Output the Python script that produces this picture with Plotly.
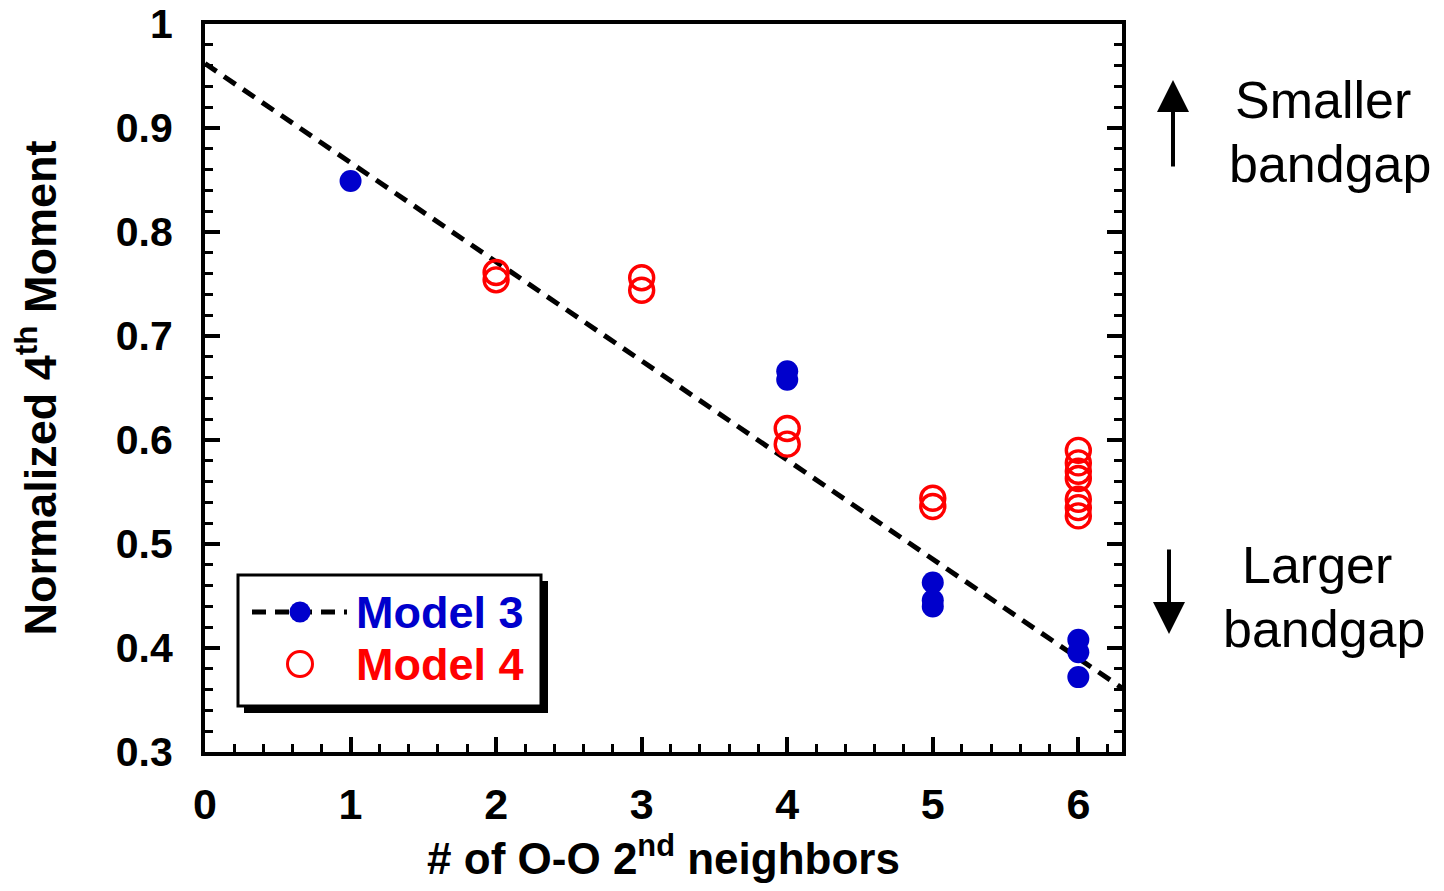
import plotly.graph_objects as go

# Model 3: filled blue circles
m3_x = [1, 4, 4, 5, 5, 5, 6, 6, 6]
m3_y = [0.849, 0.666, 0.658, 0.463, 0.446, 0.440, 0.408, 0.396, 0.372]

# Model 4: open red circles
m4_x = [2, 2, 3, 3, 4, 4, 5, 5, 6, 6, 6, 6, 6, 6, 6]
m4_y = [0.761, 0.754, 0.756, 0.744, 0.611, 0.596, 0.544, 0.536,
        0.590, 0.578, 0.570, 0.563, 0.543, 0.535, 0.527]

# straight-line fit drawn across the whole x range
fit_x = [0, 6.3]
fit_y = [0.962, 0.3615]

x_ticks = [0, 1, 2, 3, 4, 5, 6]
y_ticks = [0.3, 0.4, 0.5, 0.6, 0.7, 0.8, 0.9, 1.0]
y_tick_text = ["0.3", "0.4", "0.5", "0.6", "0.7", "0.8", "0.9", "1"]

BLUE = "#0000CC"
RED = "#FF0000"
SANS = "Liberation Sans, Arial, Helvetica, sans-serif"
DASH = "14px,9px"

fig = go.Figure()
fig.add_trace(go.Scatter(x=fit_x, y=fit_y, mode="lines",
                         line=dict(color="black", width=5, dash=DASH),
                         showlegend=False, hoverinfo="skip"))
fig.add_trace(go.Scatter(x=m3_x, y=m3_y, mode="markers", name="Model 3",
                         marker=dict(color=BLUE, size=22, line=dict(width=0)),
                         showlegend=False))
fig.add_trace(go.Scatter(x=m4_x, y=m4_y, mode="markers", name="Model 4",
                         marker=dict(symbol="circle-open", color=RED, size=24,
                                     line=dict(width=3.4, color=RED)),
                         showlegend=False))

# legend box (drop shadow + framed white panel), positioned in pixels from the
# lower-left corner of the plotting area
def px_shape(**kw):
    base = dict(xref="paper", yref="paper", xanchor=0, yanchor=0,
                xsizemode="pixel", ysizemode="pixel", layer="above")
    base.update(kw)
    return base

shapes = [
    px_shape(type="rect", x0=39, x1=343, y0=39, y1=171,
             fillcolor="black", line=dict(width=0)),
    px_shape(type="rect", x0=33, x1=336, y0=46, y1=177,
             fillcolor="white", line=dict(color="black", width=3)),
    px_shape(type="line", x0=47, x1=142, y0=140, y1=140,
             line=dict(color="black", width=5, dash=DASH)),
    px_shape(type="circle", x0=84.5, x1=105.5, y0=129.5, y1=150.5,
             fillcolor=BLUE, line=dict(width=0)),
    px_shape(type="circle", x0=82.5, x1=107.5, y0=75.5, y1=100.5,
             fillcolor="rgba(0,0,0,0)", line=dict(color=RED, width=3)),
]

def side_text(text, cx, cy):
    return dict(text=text, xref="paper", yref="paper",
                x=(cx - 205) / 917, y=(752 - cy) / 728,
                xanchor="center", yanchor="middle", showarrow=False,
                font=dict(family=SANS, size=52, color="black"))

def arrow(x_tip, y_tip, dy):
    return dict(text="", xref="paper", yref="paper",
                x=(x_tip - 205) / 917, y=(752 - y_tip) / 728,
                ax=0, ay=dy, showarrow=True, arrowhead=2, arrowsize=1.6,
                arrowwidth=4, arrowcolor="black", standoff=0)

annotations = [
    dict(text="<b>Model 3</b>", xref="paper", yref="paper", x=0, y=0,
         xshift=149, yshift=140, xanchor="left", yanchor="middle",
         showarrow=False, font=dict(family=SANS, size=45, color=BLUE)),
    dict(text="<b>Model 4</b>", xref="paper", yref="paper", x=0, y=0,
         xshift=149, yshift=88, xanchor="left", yanchor="middle",
         showarrow=False, font=dict(family=SANS, size=45, color=RED)),
    side_text("Smaller", 1323, 100),
    side_text("bandgap", 1330, 164),
    side_text("Larger", 1317, 565),
    side_text("bandgap", 1324, 629),
    arrow(1173, 80, 88),     # up: smaller bandgap
    arrow(1169, 634, -86),   # down: larger bandgap
]

fig.update_layout(
    width=1444, height=891,
    margin=dict(l=205, r=322, t=24, b=139, pad=0, autoexpand=False),
    paper_bgcolor="white", plot_bgcolor="white",
    showlegend=False,
    shapes=shapes, annotations=annotations,
)

fig.update_xaxes(
    range=[0, 6.3], tickvals=x_ticks, showgrid=False, zeroline=False,
    automargin=False,
    showline=True, linecolor="black", linewidth=4, mirror=True,
    ticks="inside", ticklen=15, tickwidth=4, tickcolor="black",
    ticklabelstandoff=11,
    tickfont=dict(family=SANS, size=43, color="black", weight="bold"),
    minor=dict(dtick=0.2, ticks="inside", ticklen=8, tickwidth=3,
               tickcolor="black", showgrid=False),
    title=dict(text="# of O-O 2<sup>nd</sup> neighbors", standoff=16,
               font=dict(family=SANS, size=44, color="black", weight="bold")),
)
fig.update_yaxes(
    range=[0.3, 1.0], tickvals=y_ticks, ticktext=y_tick_text,
    showgrid=False, zeroline=False, automargin=False,
    showline=True, linecolor="black", linewidth=4, mirror="ticks",
    ticks="inside", ticklen=15, tickwidth=4, tickcolor="black",
    ticklabelstandoff=20,
    tickfont=dict(family=SANS, size=41, color="black", weight="bold"),
    minor=dict(dtick=0.02, ticks="inside", ticklen=8, tickwidth=3,
               tickcolor="black", showgrid=False),
    title=dict(text="Normalized 4<sup>th</sup> Moment", standoff=46,
               font=dict(family=SANS, size=45, color="black", weight="bold")),
)

fig.write_html("out.html")
